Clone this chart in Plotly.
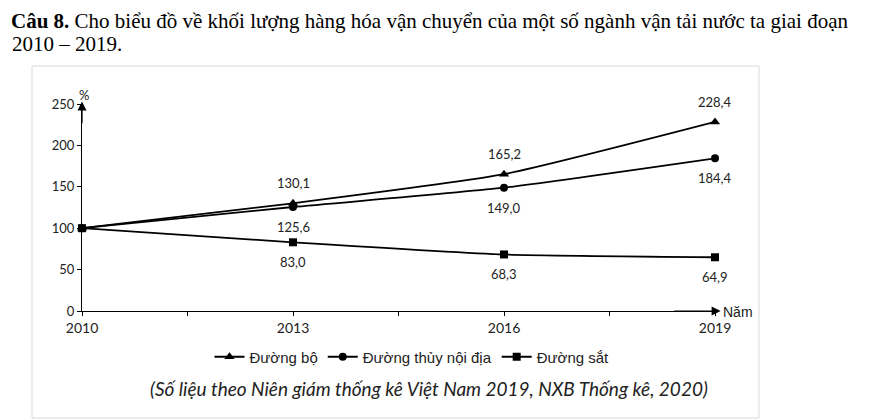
import plotly.graph_objects as go

years = [2010, 2013, 2016, 2019]
duong_bo = [100, 130.1, 165.2, 228.4]
duong_thuy = [100, 125.6, 149.0, 184.4]
duong_sat = [100, 83.0, 68.3, 64.9]
series_names = ["Đường bộ", "Đường thủy nội địa", "Đường sắt"]
label_side = [1, -1, -1]  # +1 above, -1 below

W, H = 877, 419
OFF = 8  # page offset of the figure in the browser
def px(xp): return (xp - OFF) / W
def py(yp): return (H - (yp - OFF)) / H

fig = go.Figure()
symbols = ["triangle-up", "circle", "square"]
sizes = [9, 8, 8]
all_series = [duong_bo, duong_thuy, duong_sat]
for name, vals, sym, sz in zip(series_names, all_series, symbols, sizes):
    fig.add_trace(go.Scatter(
        x=years, y=vals, name=name, mode="lines+markers",
        line=dict(color="black", width=1.8, shape="spline", smoothing=0.5),
        marker=dict(symbol=sym, size=sz, color="black"),
        cliponaxis=False,
    ))

annotations = []
for vals, side in zip(all_series, label_side):
    for x, v in zip(years[1:], vals[1:]):
        annotations.append(dict(
            x=x, y=v, xref="x", yref="y", showarrow=False,
            text=f"{v:.1f}".replace(".", ","),
            yshift=20 * side, yanchor="middle",
            font=dict(family="Lato, Open Sans, sans-serif", size=13, color="#222"),
        ))

# axis arrows
annotations.append(dict(x=2010, y=253, ax=2010, ay=225, xref="x", yref="y",
                        axref="x", ayref="y", showarrow=True, arrowhead=2,
                        arrowsize=1.5, arrowwidth=1.2, arrowcolor="black", text=""))
annotations.append(dict(x=2019.08, y=0, ax=2018.4, ay=0, xref="x", yref="y",
                        axref="x", ayref="y", showarrow=True, arrowhead=2,
                        arrowsize=1.5, arrowwidth=1.2, arrowcolor="black", text=""))
annotations.append(dict(x=px(84), y=py(95), xref="paper", yref="paper", showarrow=False,
                        xanchor="center", yanchor="middle",
                        text="%", font=dict(family="Lato, sans-serif", size=13, color="#222")))
annotations.append(dict(x=px(721), y=py(312), xref="paper", yref="paper", showarrow=False,
                        xanchor="left", yanchor="middle", text="Năm",
                        font=dict(family="Liberation Sans, sans-serif", size=14, color="#222")))

# title
annotations.append(dict(x=px(10), y=1.0, xref="paper", yref="paper", showarrow=False,
                        xanchor="left", yanchor="top", borderpad=0,
                        text="<b>Câu 8.</b> Cho biểu đồ về khối lượng hàng hóa vận chuyển của một số ngành vận tải nước ta giai đoạn",
                        font=dict(family="Liberation Serif, serif", size=21, color="black")))
annotations.append(dict(x=px(10), y=py(44), xref="paper", yref="paper", showarrow=False,
                        xanchor="left", yanchor="middle", text="2010 – 2019.",
                        font=dict(family="Liberation Serif, serif", size=21, color="black")))
# caption
annotations.append(dict(x=px(429), y=py(388), xref="paper", yref="paper", showarrow=False,
                        xanchor="center", yanchor="middle",
                        text="<i>(Số liệu theo Niên giám thống kê Việt Nam 2019, NXB Thống kê, 2020)</i>",
                        font=dict(family="Lato, Open Sans, sans-serif", size=19, color="#222")))

fig.update_layout(
    width=W, height=H, margin=dict(l=0, r=0, t=0, b=0, autoexpand=False),
    paper_bgcolor="white", plot_bgcolor="white",
    showlegend=True,
    legend=dict(orientation="h", x=px(412), y=py(357), xanchor="center", yanchor="middle",
                font=dict(family="Liberation Sans Narrow, Liberation Sans, sans-serif", size=15, color="#222"),
                itemwidth=30, tracegroupgap=0, bgcolor="rgba(0,0,0,0)"),
    annotations=annotations,
    shapes=[dict(type="rect", xref="paper", yref="paper",
                 x0=px(32), x1=px(759), y0=py(418), y1=py(66),
                 line=dict(color="#d9d9d9", width=1))],
    xaxis=dict(domain=[px(82), px(715)], range=[2010, 2019], automargin=False,
               tickvals=years, ticktext=[str(y) for y in years],
               showgrid=False, zeroline=False, showline=True, linecolor="black", linewidth=1.2,
               ticks="outside", ticklen=4, tickcolor="black",
               minor=dict(tickvals=[2011.5, 2014.5, 2017.5], ticks="outside", ticklen=4, tickcolor="black"),
               tickfont=dict(family="Lato, Open Sans, sans-serif", size=14, color="#222"),
               anchor="y"),
    yaxis=dict(domain=[py(311), py(104)], range=[0, 250], automargin=False,
               tickvals=[0, 50, 100, 150, 200, 250],
               showgrid=False, zeroline=False, showline=True, linecolor="black", linewidth=1.2,
               ticks="outside", ticklen=4, tickcolor="black",
               tickfont=dict(family="Lato, Open Sans, sans-serif", size=13, color="#222"),
               anchor="x"),
)
fig.write_html("out.html")
